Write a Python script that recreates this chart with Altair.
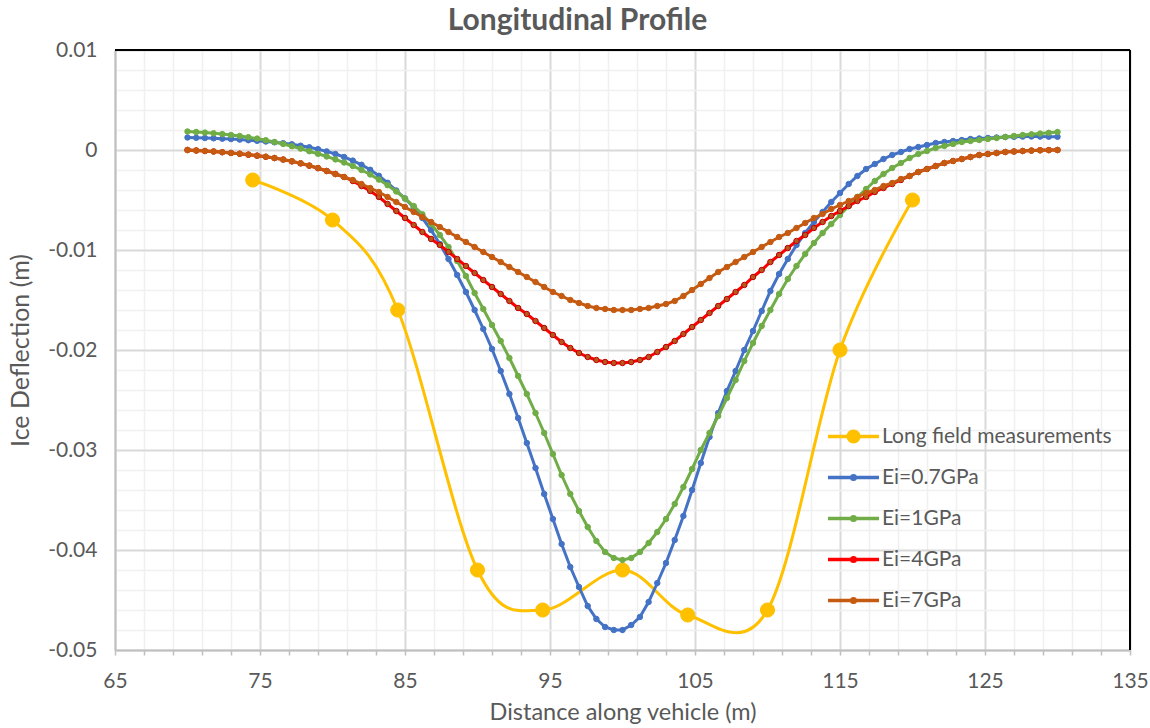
import altair as alt
import pandas as pd

# ---------------- data ----------------
X_MODEL = [70.0, 70.6, 71.2, 71.8, 72.4, 73.0, 73.6, 74.2, 74.8, 75.4,
           76.0, 76.6, 77.2, 77.8, 78.4, 79.0, 79.6, 80.2, 80.8, 81.4,
           82.0, 82.6, 83.2, 83.8, 84.4, 85.0, 85.6, 86.2, 86.8, 87.4,
           88.0, 88.6, 89.2, 89.8, 90.4, 91.0, 91.6, 92.2, 92.8, 93.4,
           94.0, 94.6, 95.2, 95.8, 96.4, 97.0, 97.6, 98.2, 98.8, 99.4,
           100.0,
           100.6, 101.2, 101.8, 102.4, 103.0, 103.6, 104.2, 104.8, 105.4, 106.0,
           106.6, 107.2, 107.8, 108.4, 109.0, 109.6, 110.2, 110.8, 111.4, 112.0,
           112.6, 113.2, 113.8, 114.4, 115.0, 115.6, 116.2, 116.8, 117.4, 118.0,
           118.6, 119.2, 119.8, 120.4, 121.0, 121.6, 122.2, 122.8, 123.4, 124.0,
           124.6, 125.2, 125.8, 126.4, 127.0, 127.6, 128.2, 128.8, 129.4, 130.0]

E07 = [0.00125, 0.00122, 0.00120, 0.00117, 0.00113, 0.00109, 0.00104, 0.00098, 0.00092, 0.00085,
       0.00077, 0.00068, 0.00057, 0.00043, 0.00027, 0.00008, -0.00014, -0.00040, -0.00070, -0.00106,
       -0.00148, -0.00198, -0.00258, -0.00328, -0.00405, -0.00485, -0.00575, -0.0068, -0.0080, -0.0094,
       -0.0109, -0.0125, -0.0142, -0.0160, -0.0179, -0.0199, -0.0221, -0.0244, -0.0268, -0.0293,
       -0.0318, -0.0344, -0.0369, -0.0394, -0.0417, -0.0437, -0.0456, -0.0469, -0.0477, -0.0480,
       -0.0480,
       -0.0475, -0.0467, -0.0452, -0.0433, -0.0413, -0.0390, -0.0366, -0.0340, -0.0313, -0.0287,
       -0.0263, -0.0241, -0.0221, -0.0200, -0.0181, -0.0161, -0.0141, -0.0124, -0.0109, -0.0095,
       -0.0083, -0.0072, -0.0062, -0.0052, -0.0043, -0.0034, -0.0026, -0.0019, -0.0014, -0.0009,
       -0.0005, -0.0002, 0.0001, 0.0003, 0.0005, 0.0007, 0.0008, 0.0009, 0.0010, 0.0011,
       0.00115, 0.0012, 0.00125, 0.0013, 0.00132, 0.00134, 0.00135, 0.00134, 0.00133, 0.00132]

E1 = [0.00185, 0.00180, 0.00174, 0.00167, 0.00159, 0.00150, 0.00140, 0.00128, 0.00114, 0.00098,
      0.00080, 0.00060, 0.00038, 0.00014, -0.00012, -0.00038, -0.00065, -0.00094, -0.00125, -0.00160,
      -0.00200, -0.00245, -0.00296, -0.00352, -0.00415, -0.00485, -0.00560, -0.00643, -0.0074, -0.0085,
      -0.0097, -0.0111, -0.0126, -0.0143, -0.0159, -0.0175, -0.0191, -0.0208, -0.0226, -0.0244,
      -0.0263, -0.0283, -0.0304, -0.0325, -0.0344, -0.0361, -0.0377, -0.0391, -0.0402, -0.0408,
      -0.0410,
      -0.0408, -0.0402, -0.0393, -0.0382, -0.0369, -0.0354, -0.0337, -0.0319, -0.0300, -0.0283,
      -0.0266, -0.0248, -0.0230, -0.0211, -0.0193, -0.0176, -0.0160, -0.0144, -0.0129, -0.0116,
      -0.0104, -0.0093, -0.0083, -0.0074, -0.0065, -0.0056, -0.0047, -0.0039, -0.0031, -0.0024,
      -0.0018, -0.0013, -0.0008, -0.0004, -0.0001, 0.0002, 0.0004, 0.0006, 0.0008, 0.0009,
      0.0010, 0.0011, 0.0012, 0.0013, 0.0014, 0.0015, 0.00157, 0.00164, 0.00172, 0.0018]

E4 = [0.0, -0.00005, -0.0001, -0.00015, -0.00022, -0.0003, -0.00038, -0.00047, -0.00057, -0.00068,
      -0.00081, -0.00096, -0.00114, -0.00134, -0.00157, -0.00182, -0.0021, -0.0024, -0.0027, -0.0031,
      -0.0036, -0.0041, -0.0047, -0.0054, -0.0061, -0.0068, -0.0075, -0.0082, -0.0089, -0.0095,
      -0.0102, -0.0109, -0.0116, -0.0123, -0.0130, -0.0137, -0.0144, -0.0151, -0.0158, -0.0164,
      -0.0171, -0.0178, -0.0185, -0.0192, -0.0198, -0.0203, -0.0207, -0.0210, -0.0212, -0.0213,
      -0.0213,
      -0.0212, -0.0210, -0.0207, -0.0202, -0.0197, -0.0191, -0.0184, -0.0177, -0.0170, -0.0163,
      -0.0156, -0.0149, -0.0142, -0.0135, -0.0127, -0.0120, -0.0112, -0.0105, -0.0098, -0.0091,
      -0.0085, -0.0078, -0.0072, -0.0066, -0.0061, -0.0056, -0.0051, -0.0047, -0.0042, -0.0038,
      -0.0034, -0.0030, -0.0026, -0.0022, -0.0019, -0.0016, -0.0013, -0.0011, -0.0009, -0.0007,
      -0.0005, -0.0004, -0.0003, -0.0002, -0.00015, -0.0001, -0.00006, -0.00003, -0.00001, 0.0]

E7 = [0.0, -0.00005, -0.0001, -0.00015, -0.00022, -0.00029, -0.00037, -0.00046, -0.00056, -0.00067,
      -0.0008, -0.00095, -0.00112, -0.00132, -0.00155, -0.0018, -0.0021, -0.0024, -0.0027, -0.0030,
      -0.0034, -0.0038, -0.0042, -0.0047, -0.0052, -0.0057, -0.0062, -0.0067, -0.0072, -0.0077,
      -0.0082, -0.0087, -0.0092, -0.0097, -0.0102, -0.0107, -0.0112, -0.0117, -0.0122, -0.0127,
      -0.0132, -0.0137, -0.0142, -0.0146, -0.0150, -0.0153, -0.0156, -0.0158, -0.0159, -0.0160,
      -0.0160,
      -0.0160, -0.0159, -0.0158, -0.0156, -0.0154, -0.0151, -0.0146, -0.0140, -0.0134, -0.0128,
      -0.0122, -0.0117, -0.0112, -0.0107, -0.0102, -0.0097, -0.0092, -0.0087, -0.0083, -0.0078,
      -0.0073, -0.0068, -0.0064, -0.0059, -0.0055, -0.0051, -0.0047, -0.0043, -0.0040, -0.0036,
      -0.0033, -0.0029, -0.0026, -0.0022, -0.0019, -0.0016, -0.0013, -0.0011, -0.0009, -0.0007,
      -0.0005, -0.0004, -0.0003, -0.0002, -0.00015, -0.0001, -0.00006, -0.00003, -0.00001, 0.0]

FIELD_X = [74.5, 80, 84.5, 90, 94.5, 100, 104.5, 110, 115, 120]
FIELD_Y = [-0.003, -0.007, -0.016, -0.042, -0.046, -0.042, -0.0465, -0.046, -0.020, -0.005]

SERIES = ["Long field measurements", "Ei=0.7GPa", "Ei=1GPa", "Ei=4GPa", "Ei=7GPa"]
LINE_COLORS = ["#FFC000", "#4472C4", "#70AD47", "#FF0000", "#C55A11"]
MARKER_FILLS = ["#FFC000", "#4472C4", "#70AD47", "#B8561C", "#C55A11"]
MARKER_STROKES = ["#FFC000", "#4472C4", "#70AD47", "#C00000", "#C55A11"]

X_TICKS = [65, 67, 69, 71, 73, 75, 77, 79, 81, 83, 85, 87, 89, 91, 93, 95, 97, 99, 101,
           103, 105, 107, 109, 111, 113, 115, 117, 119, 121, 123, 125, 127, 129, 131, 133, 135]
Y_TICKS = [round(-0.05 + 0.002 * i, 3) for i in range(31)]

TEXT = "#595959"
FONT = "Lato"

# ---------------- tables ----------------
frames = [pd.DataFrame({"x": FIELD_X, "y": FIELD_Y, "series": SERIES[0]})]
for name, vals in zip(SERIES[1:], [E07, E1, E4, E7]):
    frames.append(pd.DataFrame({"x": X_MODEL, "y": vals, "series": name}))
all_df = pd.concat(frames, ignore_index=True)

# ---------------- scales / axes ----------------
x_scale = alt.Scale(domain=[65, 135], nice=False, zero=False)
y_scale = alt.Scale(domain=[-0.05, 0.01], nice=False, zero=False)
stroke_scale = alt.Scale(domain=SERIES, range=LINE_COLORS)
fill_scale = alt.Scale(domain=SERIES, range=MARKER_FILLS)

x_major = "(datum.value - 65) % 10 === 0"
y_major = "abs(datum.value * 100 - round(datum.value * 100)) < 1e-6"

x_axis = alt.Axis(
    values=X_TICKS, title="Distance along vehicle (m)",
    labelExpr=f"{x_major} ? datum.label : ''",
    labelOverlap=False, labelFlush=False,
    gridColor={"condition": {"test": x_major, "value": "#D9D9D9"}, "value": "#F0F0F0"},
    gridWidth={"condition": {"test": x_major, "value": 2}, "value": 1.5},
    ticks=True, tickSize=5, tickColor="#BFBFBF", tickWidth=1.5,
    domainColor="#BFBFBF", domainWidth=2,
    labelFont=FONT, labelFontSize=21, labelColor=TEXT, labelPadding=15,
    titleFont=FONT, titleFontSize=23.5, titleFontWeight="normal", titleColor=TEXT, titlePadding=9,
)
y_axis = alt.Axis(
    values=Y_TICKS, title="Ice Deflection (m)",
    labelExpr=f"{y_major} ? '' + round(datum.value * 100) / 100 : ''",
    labelOverlap=False, labelFlush=False,
    gridColor={"condition": {"test": y_major, "value": "#D9D9D9"}, "value": "#F0F0F0"},
    gridWidth={"condition": {"test": y_major, "value": 2}, "value": 1.5},
    ticks=False, domainColor="#BFBFBF", domainWidth=2,
    labelFont=FONT, labelFontSize=21, labelColor=TEXT, labelPadding=18,
    titleFont=FONT, titleFontSize=25, titleFontWeight="normal", titleColor=TEXT, titlePadding=14,
)

X = alt.X("x:Q", scale=x_scale, axis=x_axis)
Y = alt.Y("y:Q", scale=y_scale, axis=y_axis)


def sym(r):
    return (f"M-1,0L1,0M{r},0A{r},{r},0,1,1,{-r},0A{r},{r},0,1,1,{r},0Z")


SHAPES = [sym(0.21), sym(0.07), sym(0.07), sym(0.07), sym(0.07)]

legend = alt.Legend(
    title=None, orient="none", legendX=711, legendY=366, padding=0,
    symbolSize=2601, symbolStrokeWidth=3.5, symbolOpacity=1,
    labelFont=FONT, labelFontSize=21, labelColor=TEXT, labelOffset=1,
    labelLimit=400, rowPadding=0, clipHeight=41,
)

layers = []
for i, name in enumerate(SERIES):
    d = frames[i]
    if i == 0:
        line = alt.Chart(d).mark_line(strokeWidth=3, interpolate="cardinal", tension=0,
                                      color=LINE_COLORS[i])
        pts = alt.Chart(d).mark_circle(size=200, opacity=1, strokeWidth=1,
                                       fill=MARKER_FILLS[i], stroke=MARKER_STROKES[i])
    else:
        line = alt.Chart(d).mark_line(strokeWidth=3, color=LINE_COLORS[i])
        pts = alt.Chart(d).mark_circle(size=30, opacity=1, strokeWidth=1,
                                       fill=MARKER_FILLS[i], stroke=MARKER_STROKES[i])
    layers.append(line.encode(x=X, y=Y))
    layers.append(pts.encode(x=X, y=Y))

legend_layer = alt.Chart(all_df).mark_point(filled=True, opacity=0).encode(
    x=X, y=Y,
    fill=alt.Fill("series:N", scale=fill_scale, legend=legend),
    stroke=alt.Stroke("series:N", scale=stroke_scale, legend=legend),
    shape=alt.Shape("series:N", scale=alt.Scale(domain=SERIES, range=SHAPES), legend=legend),
)

top_rule = alt.Chart(pd.DataFrame({"y": [0.01]})).mark_rule(color="black", strokeWidth=2).encode(y=Y)
right_rule = alt.Chart(pd.DataFrame({"x": [135]})).mark_rule(color="black", strokeWidth=2).encode(x=X)

chart = alt.layer(legend_layer, *layers, top_rule, right_rule).properties(
    width=1015, height=600,
    title=alt.TitleParams(
        text="Longitudinal Profile", font=FONT, fontSize=30, fontWeight="bold",
        color=TEXT, anchor="middle", dx=-45, offset=3),
    autosize=alt.AutoSizeParams(type="none"),
    padding={"left": 115, "top": 50, "right": 20, "bottom": 78},
    background="white",
).configure_view(stroke=None)

chart.save("out.html", embed_options={"renderer": "svg", "actions": False})
